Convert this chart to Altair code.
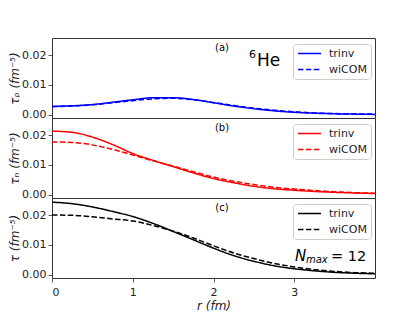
import altair as alt
import pandas as pd

# ---------------- data ----------------
r = [0.0, 0.25, 0.5, 0.75, 1.0, 1.25, 1.5, 1.75, 2.0, 2.25, 2.5, 2.75,
     3.0, 3.25, 3.5, 3.75, 4.0]
series_names = ["trinv", "wiCOM"]

tau_p_trinv = [0.0028, 0.0030, 0.0034, 0.0042, 0.0050, 0.0057, 0.0057, 0.0051,
               0.0040, 0.0029, 0.0020, 0.0013, 0.0008, 0.0005, 0.0003, 0.0002, 0.0001]
tau_p_wicom = [0.0027, 0.0029, 0.0033, 0.0040, 0.0047, 0.0053, 0.0055, 0.0050,
               0.0041, 0.0031, 0.0022, 0.0015, 0.0010, 0.0006, 0.0004, 0.0003, 0.0002]

tau_n_trinv = [0.0213, 0.0209, 0.0193, 0.0168, 0.0138, 0.0115, 0.0094, 0.0073,
               0.0054, 0.0040, 0.0028, 0.0020, 0.0015, 0.0011, 0.0008, 0.0006, 0.0004]
tau_n_wicom = [0.0177, 0.0175, 0.0167, 0.0152, 0.0133, 0.0114, 0.0096, 0.0077,
               0.0059, 0.0045, 0.0034, 0.0025, 0.0019, 0.0014, 0.0010, 0.0007, 0.0005]

tau_trinv = [0.0243, 0.0238, 0.0227, 0.0212, 0.0195, 0.0172, 0.0145, 0.0117,
             0.0089, 0.0064, 0.0045, 0.0030, 0.0020, 0.0013, 0.0008, 0.0005, 0.0003]
tau_wicom = [0.0200, 0.0199, 0.0194, 0.0187, 0.0180, 0.0165, 0.0146, 0.0123,
             0.0097, 0.0073, 0.0054, 0.0038, 0.0026, 0.0017, 0.0011, 0.0007, 0.0005]

panel_labels = ["(a)", "(b)", "(c)"]
y_titles = ["τₚ (fm⁻⁵)", "τₙ (fm⁻⁵)", "τ (fm⁻⁵)"]
x_title = "r (fm)"
x_ticks = [0, 1, 2, 3]
y_ticks = [0.0, 0.01, 0.02]
nucleus_mass = "6"
nucleus_symbol = "He"
nmax_parts = ["N", "max", "= 12"]

# ---------------- chart ----------------
W, H = 323, 80
Y_DOMAIN = [-0.0011, 0.0257]
FONT = "DejaVu Sans"


def make_df(a, b):
    return pd.DataFrame({
        "r": r + r,
        "tau": a + b,
        "series": [series_names[0]] * len(r) + [series_names[1]] * len(r),
    })


def text_layer(txt, x, y, size, style="normal", align="left", baseline="middle"):
    return alt.Chart(pd.DataFrame({"t": [txt]})).mark_text(
        font=FONT, fontSize=size, fontStyle=style, align=align,
        baseline=baseline, color="black"
    ).encode(text="t:N", x=alt.value(x), y=alt.value(y))


def panel(df, color, ytitle, label, show_x, extras):
    if show_x:
        x_axis = alt.Axis(values=x_ticks, format="d", title=x_title,
                          labelPadding=4, titlePadding=3)
    else:
        x_axis = None
    line = alt.Chart(df).mark_line(
        color=color, strokeWidth=1.5, interpolate="monotone"
    ).encode(
        x=alt.X("r:Q", scale=alt.Scale(domain=[0, 4], nice=False, zero=False),
                axis=x_axis),
        y=alt.Y("tau:Q", scale=alt.Scale(domain=Y_DOMAIN, nice=False, zero=False),
                axis=alt.Axis(values=y_ticks, format=".2f", title=ytitle,
                              labelPadding=2, titlePadding=0)),
        strokeDash=alt.StrokeDash(
            "series:N",
            scale=alt.Scale(domain=series_names, range=[[1, 0], [5.5, 2.4]]),
            legend=alt.Legend(
                title=None, orient="none", legendX=241, legendY=6,
                symbolType="stroke", symbolSize=529, symbolStrokeWidth=1.5,
                symbolStrokeColor=color, clipHeight=11, rowPadding=4,
                labelOffset=7, labelFont=FONT, labelFontSize=11,
                labelColor="#222", padding=4, fillColor="white",
                strokeColor="#cccccc", cornerRadius=3,
            ),
        ),
    )
    layers = [line, text_layer(label, 170, 10, 10, align="center")] + extras
    return alt.layer(*layers).properties(width=W, height=H)


extras_a = [
    text_layer(nucleus_mass, 197, 17, 11),
    text_layer(nucleus_symbol, 205, 23, 17),
]
extras_c = [
    text_layer(nmax_parts[0], 243, 63, 15, style="italic", baseline="alphabetic"),
    text_layer(nmax_parts[1], 254, 65, 10, style="italic", baseline="alphabetic"),
    text_layer(nmax_parts[2], 279, 63, 14.5, baseline="alphabetic"),
]

p1 = panel(make_df(tau_p_trinv, tau_p_wicom), "#0000ff", y_titles[0], panel_labels[0], False, extras_a)
p2 = panel(make_df(tau_n_trinv, tau_n_wicom), "#ff0000", y_titles[1], panel_labels[1], False, [])
p3 = panel(make_df(tau_trinv, tau_wicom), "#000000", y_titles[2], panel_labels[2], True, extras_c)

chart = alt.vconcat(p1, p2, p3, spacing=0, bounds="flush").resolve_scale(
    strokeDash="independent"
).resolve_legend(
    strokeDash="independent"
).properties(
    padding={"left": 0, "top": 29, "right": 0, "bottom": 0}
).configure_view(
    stroke="#333333", strokeWidth=1
).configure_axis(
    domain=False, grid=False, tickColor="#333333", tickSize=4, tickWidth=0.8,
    labelFont=FONT, labelFontSize=11, labelColor="#222222",
    titleFont=FONT, titleFontSize=12, titleFontWeight="normal",
    titleFontStyle="italic", titleColor="#222222",
).configure_concat(spacing=0)

chart.save("out.html", embed_options={"renderer": "svg", "actions": False})
